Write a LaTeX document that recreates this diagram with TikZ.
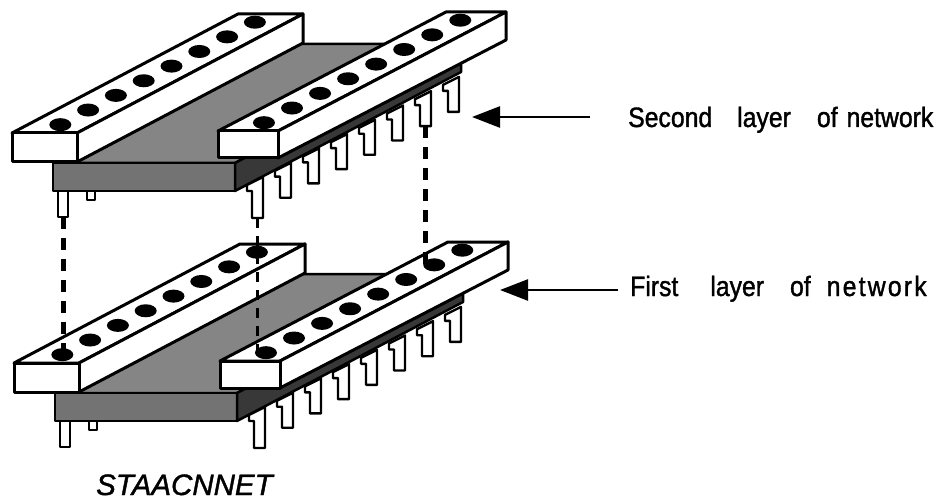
\documentclass[tikz,border=0pt]{standalone}
\usepackage{fontspec}
\newfontfamily\labelfont[FakeStretch=0.885,FakeBold=1.3]{Liberation Sans}
\newfontfamily\captfont[FakeBold=1.3]{Liberation Sans}
\usetikzlibrary{arrows.meta,calc}
\tikzset{
  face/.style={fill=white,draw=black,line width=3pt,line join=round},
  slabtop/.style={fill=black!48,draw=black,line width=2.5pt,line join=round},
  slabfront/.style={fill=black!55,draw=black,line width=2.5pt,line join=round},
  slabside/.style={fill=black!78,draw=black,line width=2.5pt,line join=round},
  pinshape/.style={fill=white,draw=black,line width=2.4pt,line join=round},
  hole/.style={fill=black},
  link/.style={draw=black,line width=5pt,dash pattern=on 12pt off 9pt},
  thinlink/.style={draw=black,line width=3.5pt,dash pattern=on 10pt off 8pt},
  pointer/.style={draw=black,line width=2.5pt,-{Triangle[length=28pt,width=21pt]}},
  labeltext/.style={anchor=base west,inner sep=0pt,font={\labelfont\fontsize{28pt}{32pt}\selectfont}},
  captiontext/.style={anchor=base west,inner sep=0pt,font={\captfont\itshape\fontsize{29.5pt}{34pt}\selectfont}},
}
\newcommand{\chiplayer}[2]{%
 \begin{scope}[shift={#2}]
  % pins under the front of the board
  \draw[pinshape] (58,185) rectangle (68,217);
  \coordinate (#1lp) at (63,217);
  \draw[pinshape] (87,185) rectangle (95,200);
  % board
  \draw[slabtop] (53,163) -- (235,163) -- (461,44) -- (279,44) -- cycle;
  \draw[slabfront] (53,163) -- (235,163) -- (235,191) -- (53,191) -- cycle;
  \draw[slabside] (235,163) -- (461,44) -- (461,72) -- (235,191) -- cycle;
  % pins along the right side
  \foreach \i in {0,...,7} {
    \pgfmathsetmacro{\ppx}{252+28*\i}
    \pgfmathsetmacro{\ppy}{182-14.3*\i}
    \pgfmathsetmacro{\ppl}{\i==0 ? 36 : 30}
    \draw[pinshape] ({\ppx-5},{\ppy+3}) -- ({\ppx+11},{\ppy-5}) -- ({\ppx+11},{\ppy+\ppl}) -- ({\ppx},{\ppy+\ppl}) -- ({\ppx},{\ppy+9}) -- ({\ppx-5},{\ppy+9}) -- cycle;
    \coordinate (#1p\i) at ({\ppx+5.5},{\ppy+\ppl});
  }
  % left socket bar
  \draw[face] (12,133) -- (77,133) -- (303,14) -- (238,14) -- cycle;
  \draw[face] (77,133) -- (303,14) -- (303,43) -- (77,162) -- cycle;
  \draw[face] (12,133) rectangle (77,162);
  \foreach \k in {0,...,7} {
    \pgfmathsetmacro{\hpos}{0.07+0.123*\k}
    \coordinate (#1L\k) at ({44.5+226*\hpos},{133-119*\hpos});
    \fill[hole] (#1L\k) ellipse [x radius=11pt, y radius=6.5pt];
  }
  % right socket bar
  \draw[face] (218,131) -- (278,131) -- (506,12) -- (446,12) -- cycle;
  \draw[face] (278,131) -- (506,12) -- (506,40) -- (278,158) -- cycle;
  \draw[face] (218,131) rectangle (278,158);
  \foreach \k in {0,...,7} {
    \pgfmathsetmacro{\hpos}{0.07+0.123*\k}
    \coordinate (#1R\k) at ({248+228*\hpos},{131-119*\hpos});
    \fill[hole] (#1R\k) ellipse [x radius=11pt, y radius=6.5pt];
  }
 \end{scope}%
}
\begin{document}
\begin{tikzpicture}[x=1pt,y=-1pt]
  \fill[white] (0,0) rectangle (948,500);
  \useasboundingbox (0,0) rectangle (948,500);
  % second (upper) layer and first (lower) layer
  \chiplayer{T}{(0,0)}
  \chiplayer{B}{(2,230)}
  % connections between the layers
  \draw[link] (Tlp) -- (Tlp |- BL0);
  \draw[thinlink] (Tp0) -- (Tp0 |- BR0);
  \draw[link] (Tp6) -- (Tp6 |- BR6);
  % labels
  \node[labeltext] (second) at (628,127) {Second\hspace{25pt}layer\hspace{26pt}of\hspace{9pt}network};
  \coordinate (a2tail) at (590,117);
  \coordinate (a2tip) at (472,117);
  \draw[pointer] (a2tail) -- (a2tip);
  \node[labeltext] (first) at (630,296) {First\hspace{32pt}layer\hspace{26pt}of\hspace{16pt}n\kern2.2pt e\kern2.2pt t\kern2.2pt w\kern2.2pt o\kern2.2pt r\kern2.2pt k};
  \coordinate (a1tail) at (618,290);
  \coordinate (a1tip) at (500,290);
  \draw[pointer] (a1tail) -- (a1tip);
  \node[captiontext] (caption) at (96,495) {STAACNNET};
\end{tikzpicture}
\end{document}
